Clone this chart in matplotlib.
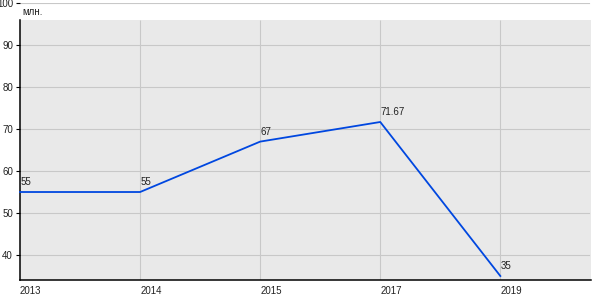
import matplotlib
matplotlib.use("Agg")
import matplotlib.pyplot as plt
from matplotlib.patches import Rectangle

years = ["2013", "2014", "2015", "2017", "2019"]
values = [55, 55, 67, 71.67, 35]
labels = ["55", "55", "67", "71.67", "35"]
yticks = [40, 50, 60, 70, 80, 90, 100]
unit = "млн."

plt.rcParams['font.family'] = ['Liberation Sans', 'DejaVu Sans']

fig = plt.figure(figsize=(6, 3), dpi=100)
ax = fig.add_axes([20/600, 20/300, 571/600, 277/300])
ymin, ytop_plot, ymax = 34.05, 96.0, 100.0
xmax = 4.755
ax.set_xlim(0, xmax)
ax.set_ylim(ymin, ymax)
ax.set_facecolor('white')
ax.add_patch(Rectangle((0, ymin), xmax, ytop_plot - ymin, facecolor='#e9e9e9',
                       edgecolor='none', zorder=0))

x = list(range(len(years)))
# vertical grid lines only within the plot area
ax.vlines(x[1:], ymin, ytop_plot, colors='#c8c8c8', linewidth=0.8, zorder=0.6)
for yt in yticks:
    ax.axhline(yt, color='#c8c8c8', linewidth=0.8, zorder=0.6,
               xmin=0, xmax=0.997)

ax.plot(x, values, color='#0047e0', linewidth=1.3, zorder=3, clip_on=False)
for xi, v, lab in zip(x, values, labels):
    ax.annotate(lab, (xi, v), xytext=(0.5, 3.5), textcoords='offset points',
                ha='left', va='bottom', fontsize=7, color='#222222', zorder=4)

ax.set_yticks(yticks)
ax.set_yticklabels([str(t) for t in yticks], fontsize=7, color='#222222')
ax.set_xticks(x)
ax.set_xticklabels(years, fontsize=7, color='#222222', ha='left')
ax.tick_params(axis='y', length=3, width=0.8, pad=2)
ax.tick_params(axis='x', length=0, pad=4)

for s in ['top', 'right']:
    ax.spines[s].set_visible(False)
ax.spines['left'].set_bounds(ymin, ytop_plot)
ax.spines['left'].set_linewidth(1.1)
ax.spines['bottom'].set_linewidth(1.1)

fig.text(22/600, 1 - 12/300, unit, fontsize=7, color='#222222', va='center', ha='left')

fig.savefig('out.png', dpi=100)
